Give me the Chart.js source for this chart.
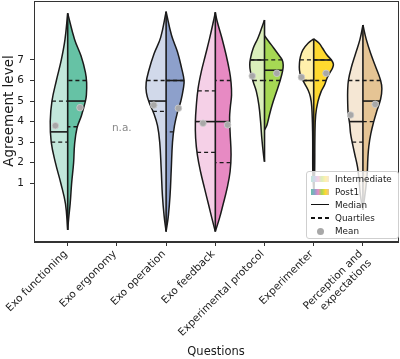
<!DOCTYPE html>
<html><head><meta charset="utf-8">
<script src="https://cdn.jsdelivr.net/npm/chart.js@4"></script>
<style>
html,body{margin:0;padding:0;background:#fff;}
#wrap{position:relative;width:400px;height:359px;}
#legend{position:absolute;left:306px;top:171px;width:91px;height:66px;border:1px solid #cfcfcf;border-radius:3px;background:rgba(255,255,255,0.8);font-family:'DejaVu Sans';font-size:8.8px;color:#1a1a1a;}
.row{position:absolute;left:0;height:12px;width:100%;}
.key{position:absolute;left:4px;top:3px;width:18px;height:6px;}
.lab{position:absolute;left:28px;top:0;line-height:12px;white-space:nowrap;}
</style></head>
<body>
<div id="wrap">
<canvas id="c" width="400" height="359"></canvas>
<div id="legend">
  <div class="row" style="top:1px"><div class="key" id="kInt"></div><span class="lab">Intermediate</span></div>
  <div class="row" style="top:14px"><div class="key" id="kPost"></div><span class="lab">Post1</span></div>
  <div class="row" style="top:26.5px"><div class="key" style="top:5px;height:1.6px;background:#111"></div><span class="lab">Median</span></div>
  <div class="row" style="top:40px"><div class="key" style="top:5px;height:1.6px;background:repeating-linear-gradient(90deg,#111 0 4px,transparent 4px 7px)"></div><span class="lab">Quartiles</span></div>
  <div class="row" style="top:53px"><div class="key" style="left:10px;top:2.5px;width:7px;height:7px;border-radius:50%;background:#a8a8a8"></div><span class="lab">Mean</span></div>
</div>
</div>
<script>
// ---------------- data ----------------
const questions = ['Exo functioning', 'Exo ergonomy', 'Exo operation', 'Exo feedback',
  'Experimental protocol', 'Experimenter', 'Perception and\nexpectations'];
const yTickValues = [1, 2, 3, 4, 5, 6, 7];
const xAxisTitle = 'Questions';
const yAxisTitle = 'Agreement level';

// violin half outlines: [agreement level, half width in category units]
const exoFunctioningIntermediate = [[9.27,0],[8.0,0.055],[7.0,0.13],[6.0,0.23],[5.0,0.32],[4.0,0.355],[3.0,0.335],[2.0,0.25],[1.0,0.14],[0.0,0.045],[-1.27,0]];
const exoFunctioningPost1 = [[9.27,0],[8.0,0.14],[7.2,0.27],[6.4,0.36],[5.9,0.385],[5.3,0.38],[5.0,0.36],[4.3,0.28],[3.7,0.19],[2.9,0.14],[2.0,0.12],[1.0,0.08],[0.0,0.05],[-0.7,0.02],[-1.27,0]];
const exoOperationIntermediate = [[9.35,0],[8.1,0.11],[7.3,0.245],[6.5,0.35],[5.9,0.405],[5.4,0.4],[4.9,0.34],[4.4,0.25],[3.8,0.175],[3.0,0.13],[1.7,0.1],[0.4,0.075],[-0.6,0.04],[-1.35,0]];
const exoOperationPost1 = [[9.35,0],[8.2,0.11],[7.4,0.23],[6.6,0.315],[6.0,0.365],[5.6,0.35],[5.0,0.3],[4.5,0.235],[3.8,0.17],[3.0,0.13],[1.7,0.105],[0.4,0.08],[-0.6,0.045],[-1.35,0]];
const exoFeedbackIntermediate = [[9.32,0],[8.86,0.04],[8.06,0.115],[7.24,0.2],[6.43,0.285],[5.62,0.35],[4.81,0.385],[4.0,0.405],[3.19,0.4],[2.38,0.365],[1.56,0.3],[0.76,0.22],[-0.06,0.135],[-0.7,0.07],[-1.35,0]];
const exoFeedbackPost1 = [[9.32,0],[8.86,0.04],[8.06,0.135],[7.24,0.22],[6.43,0.29],[5.9,0.32],[5.3,0.33],[4.7,0.305],[4.2,0.29],[3.5,0.3],[2.4,0.32],[1.56,0.3],[0.76,0.24],[-0.06,0.155],[-0.7,0.085],[-1.35,0]];
const protocolIntermediate = [[8.95,0],[8.54,0.06],[8.06,0.135],[7.57,0.23],[7.08,0.285],[6.76,0.3],[6.43,0.285],[5.94,0.23],[5.46,0.165],[4.81,0.115],[4.0,0.08],[3.19,0.055],[2.38,0.02],[2.05,0]];
const protocolPost1 = [[8.18,0],[7.89,0.09],[7.57,0.19],[7.24,0.29],[7.0,0.36],[6.76,0.38],[6.43,0.365],[5.94,0.31],[5.46,0.245],[4.81,0.155],[4.32,0.1],[3.84,0.05],[3.6,0]];
const experimenterIntermediate = [[8.03,0],[7.81,0.115],[7.49,0.22],[7.16,0.27],[6.84,0.29],[6.51,0.29],[6.19,0.26],[5.87,0.19],[5.54,0.115],[5.21,0.068],[4.73,0.04],[3.43,0.022],[1.5,0.018],[0.7,0]];
const experimenterPost1 = [[8.03,0],[7.81,0.11],[7.57,0.18],[7.24,0.27],[7.0,0.36],[6.8,0.4],[6.6,0.38],[6.43,0.34],[6.11,0.27],[5.78,0.22],[5.46,0.15],[4.97,0.085],[4.32,0.04],[3.4,0.025],[1.5,0.018],[0.7,0]];
const perceptionIntermediate = [[8.7,0],[8.0,0.06],[7.3,0.15],[6.6,0.24],[6.0,0.295],[5.5,0.31],[5.0,0.31],[4.4,0.3],[3.9,0.27],[3.4,0.25],[2.9,0.21],[2.4,0.165],[1.8,0.11],[1.2,0.08],[0.4,0.05],[-0.3,0]];
const perceptionPost1 = [[8.7,0],[8.0,0.068],[7.3,0.16],[6.6,0.27],[6.0,0.36],[5.6,0.385],[5.1,0.36],[4.5,0.28],[4.0,0.22],[3.4,0.16],[2.8,0.12],[2.2,0.1],[1.5,0.088],[0.8,0.06],[-0.3,0]];

const intermediateProfiles = [exoFunctioningIntermediate, null, exoOperationIntermediate, exoFeedbackIntermediate, protocolIntermediate, experimenterIntermediate, perceptionIntermediate];
const post1Profiles = [exoFunctioningPost1, null, exoOperationPost1, exoFeedbackPost1, protocolPost1, experimenterPost1, perceptionPost1];

const medianIntermediate = [3.5, null, 5, 4, 7, 6, 4];
const q1Intermediate     = [3, null, 4.5, 2.5, 6, 6, 3];
const q3Intermediate     = [5, null, 6, 5.5, 7, 7, 6];
const meanIntermediate   = [3.8, null, 4.8, 3.92, 6.22, 6.16, 4.32];
const medianPost1 = [5, null, 6, 4, 6.5, 7, 5];
const q1Post1     = [3.75, null, 3.5, 2, 6, 6, 4];
const q3Post1     = [6, null, 6, 6, 7, 7, 6];
const meanPost1   = [4.68, null, 4.65, 3.84, 6.35, 6.35, 4.84];
const notAvailable = [false, true, false, false, false, false, false];

// ---------------- style ----------------
const post1Colors = ['#66c2a5', '#fc8d62', '#8da0cb', '#e78ac3', '#a6d854', '#ffd92f', '#e5c494'];
const intermediateColors = ['#c2e7db', '#fed1c0', '#d1d9ea', '#f5d0e7', '#dbefbb', '#fff0ac', '#f5e7d4'];
const FONT = "'DejaVu Sans', sans-serif";
const INK = '#1a1a1a';
const meanOffset = 0.25;

document.getElementById('kInt').style.background = 'linear-gradient(90deg,' + [0,2,3,4,5,6].map(i => intermediateColors[i]).join(',') + ')';
document.getElementById('kPost').style.background = 'linear-gradient(90deg,' + [0,2,3,4,5,6].map(i => post1Colors[i]).join(',') + ')';

function widthAt(profile, y) {
  for (let k = 0; k < profile.length - 1; k++) {
    const [y0, w0] = profile[k], [y1, w1] = profile[k + 1];
    if (y <= y0 && y >= y1) return w0 + (w1 - w0) * (y0 - y) / (y0 - y1);
  }
  return 0;
}

const datasets = [];
const base = { type: 'line', pointRadius: 0, pointHoverRadius: 0, fill: false };
questions.forEach((q, i) => {
  const halves = [[intermediateProfiles[i], -1, intermediateColors[i], medianIntermediate, q1Intermediate, q3Intermediate],
                  [post1Profiles[i], 1, post1Colors[i], medianPost1, q1Post1, q3Post1]];
  let top = -Infinity, bottom = Infinity;
  halves.forEach(([prof, side, color, med, q1, q3]) => {
    if (!prof) return;
    top = Math.max(top, prof[0][0]);
    bottom = Math.min(bottom, prof[prof.length - 1][0]);
    datasets.push({ ...base, data: prof.map(([y, w]) => ({ x: i + side * w, y })),
      fill: 'shape', backgroundColor: color, borderColor: INK, borderWidth: 1.5, tension: 0.4, order: 10 });
    [[q1[i], true], [q3[i], true], [med[i], false]].forEach(([v, dashed]) => {
      datasets.push({ ...base, data: [{ x: i + side * widthAt(prof, v), y: v }, { x: i, y: v }],
        borderColor: INK, borderWidth: dashed ? 1.3 : 1.6, borderDash: dashed ? [4, 3] : [], order: dashed ? 7 : 6 });
    });
  });
  if (top > -Infinity) {
    datasets.push({ ...base, data: [{ x: i, y: top }, { x: i, y: bottom }], borderColor: INK, borderWidth: 1.6, order: 5 });
  }
});
datasets.push({ ...base, showLine: false, order: 1,
  data: questions.map((q, i) => meanIntermediate[i] == null ? null : { x: i - meanOffset, y: meanIntermediate[i] })
    .concat(questions.map((q, i) => meanPost1[i] == null ? null : { x: i + meanOffset, y: meanPost1[i] })).filter(p => p),
  pointRadius: 3.3, pointBackgroundColor: '#a8a8a8', pointBorderColor: '#cfcfcf', pointBorderWidth: 0.8 });

const framePlugin = {
  id: 'frame',
  afterDatasetsDraw(chart) {
    const { ctx, chartArea: a, scales } = chart;
    ctx.save();
    ctx.strokeStyle = '#333'; ctx.lineWidth = 1;
    ctx.strokeRect(Math.round(a.left) + 0.5, Math.round(a.top) + 0.5, Math.round(a.right - a.left), Math.round(a.bottom - a.top) - 1);
    ctx.fillStyle = '#888'; ctx.font = "10.5px " + FONT; ctx.textAlign = 'center'; ctx.textBaseline = 'middle';
    notAvailable.forEach((na, i) => {
      if (na) ctx.fillText('n.a.', scales.x.getPixelForValue(i + 0.1), scales.y.getPixelForValue(3.7));
    });
    ctx.restore();
  },
  afterDraw(chart) {
    // y-axis title, placed as in the reference (slightly above the axis centre)
    const { ctx } = chart;
    ctx.save();
    ctx.translate(9.5, 111);
    ctx.rotate(-Math.PI / 2);
    ctx.fillStyle = INK; ctx.font = "13.5px " + FONT; ctx.textAlign = 'center'; ctx.textBaseline = 'middle';
    ctx.fillText(yAxisTitle, 0, 0);
    ctx.restore();
  }
};

new Chart(document.getElementById('c'), {
  type: 'line',
  data: { datasets },
  options: {
    responsive: false, animation: false, devicePixelRatio: 1,
    layout: { padding: { left: 0, right: 2, top: 1, bottom: 0 }, autoPadding: false },
    plugins: { legend: { display: false }, tooltip: { enabled: false } },
    events: [],
    scales: {
      x: {
        type: 'linear', min: -0.685, max: 6.713,
        afterBuildTicks: s => { s.ticks = questions.map((q, i) => ({ value: i })); },
        afterFit: s => { s.height = 117; s.paddingLeft = 0; s.paddingRight = 0; },
        grid: { drawOnChartArea: false, drawTicks: true, tickLength: 4, color: '#333' },
        border: { display: true, color: '#333' },
        ticks: { autoSkip: false, minRotation: 45, maxRotation: 45, padding: 2, labelOffset: -2, color: INK,
          font: { family: FONT, size: 10.5 }, callback: v => questions[v] ? questions[v].split('\n') : '' },
        title: { display: true, text: xAxisTitle, color: INK, font: { family: FONT, size: 11.5 }, padding: { top: 0, bottom: 0 } }
      },
      y: {
        type: 'linear', min: -1.86, max: 9.87,
        afterBuildTicks: s => { s.ticks = yTickValues.map(v => ({ value: v })); },
        afterFit: s => { s.width = 34; s.paddingTop = 0; s.paddingBottom = 0; },
        grid: { drawOnChartArea: false, drawTicks: true, tickLength: 4, color: '#333' },
        border: { display: true, color: '#333' },
        ticks: { padding: 6, color: INK, font: { family: FONT, size: 10.5 } },
        title: { display: false }
      }
    }
  },
  plugins: [framePlugin]
});
</script>
</body></html>
